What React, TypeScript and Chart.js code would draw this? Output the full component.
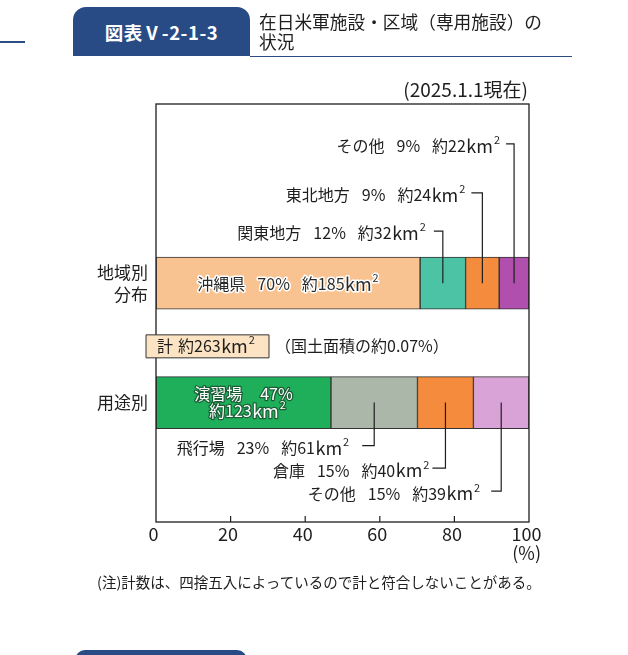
import React, { useEffect, useRef } from 'react';
import { Chart, registerables } from 'chart.js';

Chart.register(...registerables);

const FONT = '"Noto Sans CJK JP", "Noto Sans", sans-serif';

// category rows: only rows 3 and 5 carry a bar, row 4 holds the total
const rowLabels: (string | string[])[] = ['', '', '', ['地域別', '分布'], '', '用途別', '', ''];
const regionRow = 3;
const totalRow = 4;
const usageRow = 5;

const regionNames = ['沖縄県', '関東地方', '東北地方', 'その他'];
const regionPct = [70, 12, 9, 9];
const regionArea = [185, 32, 24, 22];
const regionShare = [70.8, 12.2, 9.0, 8.0];
const regionColors = ['#f9c291', '#4dc3a6', '#f58b3c', '#b04fae'];

const usageNames = ['演習場', '飛行場', '倉庫', 'その他'];
const usagePct = [47, 23, 15, 15];
const usageArea = [123, 61, 40, 39];
const usageShare = [46.9, 23.2, 15.0, 14.9];
const usageColors = ['#1faf5a', '#aab7a9', '#f58b3c', '#d9a3d7'];

const xTicks = [0, 20, 40, 60, 80, 100];
const totalArea = 263;
const landShare = '0.07';

type TextOpts = { size?: number; gap?: number; fill: string; stroke?: string; strokeW?: number };
type Run = { t: string; font: string; dx: number; dy: number; w: number };

// words separated by a fixed gap; a trailing "km" gets wider letters and a superscript 2
function drawLabel(ctx: CanvasRenderingContext2D, parts: string[], x: number, y: number,
  align: 'left' | 'right' | 'center', o: TextOpts) {
  const size = o.size ?? 16;
  const gap = o.gap ?? 12;
  const main = `${size}px ${FONT}`;
  const unit = `${size + 2}px ${FONT}`;
  const supFont = `${Math.round(size * 0.7)}px ${FONT}`;
  const runs: Run[] = [];
  const add = (t: string, font: string, dx: number, dy = 0) => {
    ctx.font = font;
    runs.push({ t, font, dx, dy, w: ctx.measureText(t).width });
  };
  parts.forEach((p, i) => {
    const lead = i === 0 ? 0 : gap;
    if (p.endsWith('km')) {
      add(p.slice(0, -2), main, lead);
      add('km', unit, 0.5);
      add('2', supFont, 1, -size * 0.38);
    } else {
      add(p, main, lead);
    }
  });
  const total = runs.reduce((a, r) => a + r.dx + r.w, 0);
  let cx = align === 'left' ? x : align === 'right' ? x - total : x - total / 2;
  ctx.textAlign = 'left';
  ctx.textBaseline = 'middle';
  runs.forEach(r => {
    cx += r.dx;
    ctx.font = r.font;
    if (o.stroke) {
      ctx.lineJoin = 'round';
      ctx.lineWidth = o.strokeW ?? 3;
      ctx.strokeStyle = o.stroke;
      ctx.strokeText(r.t, cx, y + r.dy);
    }
    ctx.fillStyle = o.fill;
    ctx.fillText(r.t, cx, y + r.dy);
    cx += r.w;
  });
}

const annotate = {
  id: 'annotate',
  afterDatasetsDraw(chart: any) {
    const { ctx, chartArea: a, scales } = chart;
    const xs = scales.x;
    const ys = scales.y;
    const seg = (ds: number, row: number) =>
      chart.getDatasetMeta(ds).data[row].getProps(['x', 'y', 'base', 'height'], true);
    const ink = '#1e1e1e';

    ctx.save();
    ctx.strokeStyle = ink;
    ctx.lineWidth = 1.3;
    ctx.strokeRect(a.left, a.top, a.right - a.left, a.bottom - a.top);

    // inner tick marks
    ctx.lineWidth = 1.2;
    xTicks.slice(1, -1).forEach(v => {
      const px = xs.getPixelForValue(v);
      ctx.beginPath();
      ctx.moveTo(px, a.bottom);
      ctx.lineTo(px, a.bottom - 6);
      ctx.stroke();
    });

    ctx.font = `18px ${FONT}`;
    ctx.fillStyle = ink;
    ctx.textAlign = 'right';
    ctx.textBaseline = 'middle';
    ctx.fillText('(%)', a.right + 12, a.bottom + 31);

    // region bar: leaders go up
    const rise = [0, 26, 64.3, 113.3];
    const upLen = [0, 9, 11, 8];
    const upGap = [0, 8, 6, 6];
    for (let k = 1; k < 4; k++) {
      const s = seg(k, regionRow);
      const lx = (s.x + s.base) / 2;
      const ly = s.y - s.height / 2 - rise[k];
      ctx.strokeStyle = ink;
      ctx.lineWidth = 1.2;
      ctx.beginPath();
      ctx.moveTo(lx, s.y);
      ctx.lineTo(lx, ly);
      ctx.lineTo(lx - upLen[k], ly);
      ctx.stroke();
      drawLabel(ctx, [regionNames[k], `${regionPct[k]}%`, `約${regionArea[k]}km`],
        lx - upLen[k] - upGap[k], ly + 2, 'right', { fill: ink });
    }

    // usage bar: leaders go down
    const drop = [0, 17, 39.5, 62.5];
    const dnLen = [0, 12, 13, 10];
    const dnGap = [0, 13, 3, 11];
    for (let k = 1; k < 4; k++) {
      const s = seg(k, usageRow);
      const lx = (s.x + s.base) / 2;
      const ly = s.y + s.height / 2 + drop[k];
      ctx.strokeStyle = ink;
      ctx.lineWidth = 1.2;
      ctx.beginPath();
      ctx.moveTo(lx, s.y);
      ctx.lineTo(lx, ly);
      ctx.lineTo(lx - dnLen[k], ly);
      ctx.stroke();
      drawLabel(ctx, [usageNames[k], `${usagePct[k]}%`, `約${usageArea[k]}km`],
        lx - dnLen[k] - dnGap[k], ly + 2.5, 'right', { fill: ink });
    }

    // labels inside the first segments
    const r0 = seg(0, regionRow);
    drawLabel(ctx, [regionNames[0], `${regionPct[0]}%`, `約${regionArea[0]}km`],
      (r0.x + r0.base) / 2, r0.y + 1, 'center', { fill: '#2a2a2a', stroke: '#fff', strokeW: 3 });
    const u0 = seg(0, usageRow);
    const uc = (u0.x + u0.base) / 2;
    drawLabel(ctx, [usageNames[0], `${usagePct[0]}%`], uc, u0.y - 8.5, 'center',
      { fill: '#fff', stroke: '#1b5e36', strokeW: 2.5, gap: 18 });
    drawLabel(ctx, [`約${usageArea[0]}km`], uc + 4, u0.y + 8.5, 'center',
      { fill: '#fff', stroke: '#1b5e36', strokeW: 2.5 });

    // total box
    const ty = ys.getPixelForValue(totalRow) + 3.5;
    ctx.fillStyle = '#fbe3c3';
    ctx.fillRect(a.left - 10, ty - 11.5, 123, 23);
    ctx.strokeStyle = '#333';
    ctx.lineWidth = 1;
    ctx.strokeRect(a.left - 10, ty - 11.5, 123, 23);
    drawLabel(ctx, ['計', `約${totalArea}km`], a.left + 1, ty, 'left', { fill: ink, gap: 5 });
    ctx.font = `16px ${FONT}`;
    ctx.fillStyle = ink;
    ctx.textAlign = 'left';
    ctx.textBaseline = 'middle';
    ctx.fillText(`（国土面積の約${landShare}%）`, a.left + 119, ty);
    ctx.restore();
  },
};

const AreaChart = () => {
  const canvasRef = useRef<HTMLCanvasElement>(null);

  useEffect(() => {
    const datasets = regionShare.map((_, k) => ({
      label: `${regionNames[k]} / ${usageNames[k]}`,
      data: rowLabels.map((_, i) => (i === regionRow ? regionShare[k] : i === usageRow ? usageShare[k] : null)),
      backgroundColor: rowLabels.map((_, i) => (i === regionRow ? regionColors[k] : usageColors[k])),
      borderColor: '#333',
      borderWidth: 1,
      borderSkipped: false,
      barThickness: 52,
    }));

    const chart = new Chart(canvasRef.current!, {
      type: 'bar',
      data: { labels: rowLabels, datasets },
      options: {
        animation: false,
        responsive: true,
        maintainAspectRatio: false,
        indexAxis: 'y',
        layout: { padding: { top: 104, right: 99, left: 0, bottom: 0 } },
        plugins: { legend: { display: false }, tooltip: { enabled: false } },
        scales: {
          x: {
            stacked: true,
            min: 0,
            max: 100,
            afterFit: (s: any) => { s.height = 133; },
            grid: { display: false, drawTicks: false },
            border: { display: false },
            ticks: {
              stepSize: 20,
              padding: 1,
              labelOffset: -2.5,
              color: '#1e1e1e',
              font: { family: FONT, size: 18 },
            },
          },
          y: {
            stacked: true,
            offset: false,
            afterFit: (s: any) => { s.width = 156; },
            grid: { display: false, drawTicks: false },
            border: { display: false },
            ticks: {
              autoSkip: false,
              padding: 8,
              color: '#1e1e1e',
              font: { family: FONT, size: 17, lineHeight: 1.3 },
            },
          },
        },
      },
      plugins: [annotate],
    });

    return () => {
      chart.destroy();
    };
  }, []);

  return (
    <div style={{ position: 'absolute', left: 0, top: 0, width: 628, height: 655 }}>
      <canvas ref={canvasRef}></canvas>
    </div>
  );
};

const abs = (s: React.CSSProperties): React.CSSProperties => ({ position: 'absolute', ...s });

export default function App() {
  return (
    <div style={{ position: 'absolute', left: 0, top: 0, width: 628, height: 655, overflow: 'hidden',
      background: '#fff', fontFamily: FONT, color: '#1e1e1e' }}>
      <AreaChart />
      <div style={abs({ left: 0, top: 41, width: 25, height: 2, background: '#2b4d84' })} />
      <div style={abs({ left: 73, top: 7, width: 177, height: 49, background: '#284b85',
        borderRadius: '13px 13px 0 0', color: '#fff', fontSize: 18.5, fontWeight: 700, letterSpacing: 0.5,
        display: 'flex', alignItems: 'center', justifyContent: 'center' })}>図表Ⅴ-2-1-3</div>
      <div style={abs({ left: 250, top: 55.5, width: 322, height: 1.5, background: '#2b4d84' })} />
      <div style={abs({ left: 259, top: 11, fontSize: 17.7, lineHeight: '20px', whiteSpace: 'nowrap' })}>
        在日米軍施設・区域（専用施設）の<br />状況
      </div>
      <div style={abs({ right: 100, top: 76, fontSize: 19, lineHeight: '26px', whiteSpace: 'nowrap' })}>
        (2025.1.1現在)
      </div>
      <div style={abs({ left: 97, top: 572, fontSize: 14.5, lineHeight: '20px', whiteSpace: 'nowrap' })}>
        (注)計数は、四捨五入によっているので計と符合しないことがある。
      </div>
      <div style={abs({ left: 75, top: 650, width: 172, height: 20, background: '#284b85',
        borderRadius: '10px 10px 0 0' })} />
    </div>
  );
}
